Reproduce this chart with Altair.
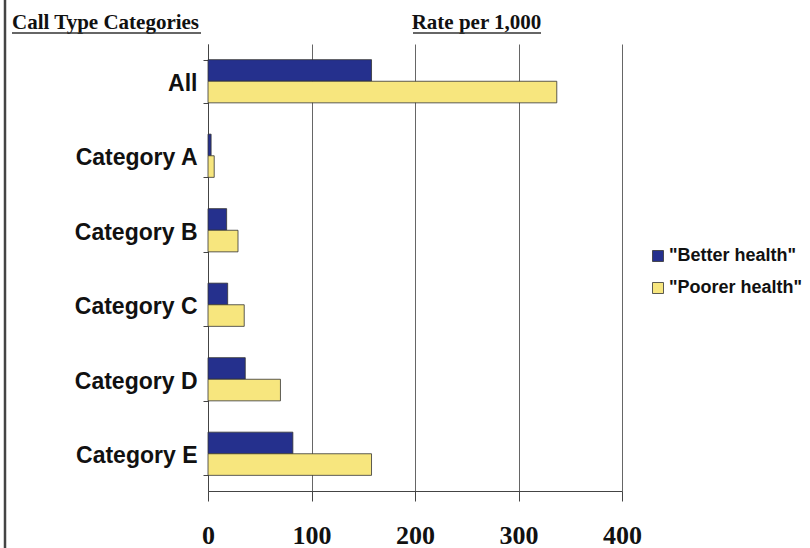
import altair as alt
import pandas as pd

# Rates per 1,000 by call type category
categories = ["All", "Category A", "Category B", "Category C", "Category D", "Category E"]
better_health = [158, 3, 18, 19, 36, 82]
poorer_health = [337, 6, 29, 35, 70, 158]
series = ['"Better health"', '"Poorer health"']
colors = ["#25308d", "#f7e67e"]
x_ticks = [0, 100, 200, 300, 400]

rows = []
for cat, b, p in zip(categories, better_health, poorer_health):
    rows.append({"category": cat, "group": series[0], "rate": b})
    rows.append({"category": cat, "group": series[1], "rate": p})
df = pd.DataFrame(rows)

bars = alt.Chart(df).mark_bar(stroke="#333333", strokeWidth=0.8).encode(
    x=alt.X(
        "rate:Q",
        scale=alt.Scale(domain=[0, 400], nice=False, zero=True),
        axis=alt.Axis(
            values=x_ticks,
            title=None,
            grid=True,
            gridColor="#666666",
            gridWidth=1,
            domainColor="#444444",
            tickColor="#444444",
            tickSize=10,
            labelFont="Liberation Serif",
            labelFontWeight="bold",
            labelFontSize=26,
            labelColor="#111111",
            labelPadding=21,
            labelFlush=False,
        ),
    ),
    y=alt.Y(
        "category:N",
        sort=categories,
        scale=alt.Scale(paddingInner=0.42, paddingOuter=0.21),
        axis=alt.Axis(
            title=None,
            tickBand="extent",
            tickSize=5,
            tickColor="#444444",
            domainColor="#444444",
            labelFont="Liberation Sans",
            labelFontWeight="bold",
            labelFontSize=23,
            labelColor="#111111",
            labelPadding=6,
            labelOffset=2,
        ),
    ),
    yOffset=alt.YOffset("group:N", sort=series),
    color=alt.Color(
        "group:N",
        sort=series,
        scale=alt.Scale(domain=series, range=colors),
        legend=alt.Legend(
            title=None,
            orient="none",
            legendX=441,
            legendY=203,
            padding=0,
            symbolType="square",
            symbolSize=121,
            symbolStrokeColor="#333333",
            symbolStrokeWidth=0.8,
            labelFont="Liberation Sans",
            labelFontWeight="bold",
            labelFontSize=18,
            labelColor="#111111",
            labelOffset=2,
            rowPadding=14,
        ),
    ),
)

# Header texts with underlines
headers = pd.DataFrame({
    "label": ["Call Type Categories", "Rate per 1,000"],
})

left_header = alt.Chart(headers.iloc[[0]]).mark_text(
    font="Liberation Serif", fontWeight="bold", fontSize=21, align="left",
    baseline="alphabetic", color="#111111",
).encode(x=alt.value(-196), y=alt.value(-15), text="label:N")

right_header = alt.Chart(headers.iloc[[1]]).mark_text(
    font="Liberation Serif", fontWeight="bold", fontSize=21, align="center",
    baseline="alphabetic", color="#111111",
).encode(x=alt.value(268.5), y=alt.value(-15), text="label:N")

underline_left = alt.Chart(headers.iloc[[0]]).mark_rule(color="#333333", strokeWidth=1.5).encode(
    x=alt.value(-196), x2=alt.value(-7), y=alt.value(-11)
)
underline_right = alt.Chart(headers.iloc[[1]]).mark_rule(color="#333333", strokeWidth=1.5).encode(
    x=alt.value(205), x2=alt.value(333), y=alt.value(-11)
)

# Frame line along the left edge
frame = alt.Chart(headers.iloc[[0]]).mark_rule(color="#444444", strokeWidth=2.5).encode(
    x=alt.value(-203), y=alt.value(-44), y2=alt.value(504)
)

chart = alt.layer(
    bars, left_header, right_header, underline_left, underline_right, frame
).properties(
    width=414,
    height=447,
    autosize=alt.AutoSizeParams(type="none"),
    padding={"left": 208, "top": 44, "right": 188, "bottom": 57},
    background="white",
).configure_view(stroke=None)

chart.save("out.html", embed_options={"renderer": "svg", "actions": False})
